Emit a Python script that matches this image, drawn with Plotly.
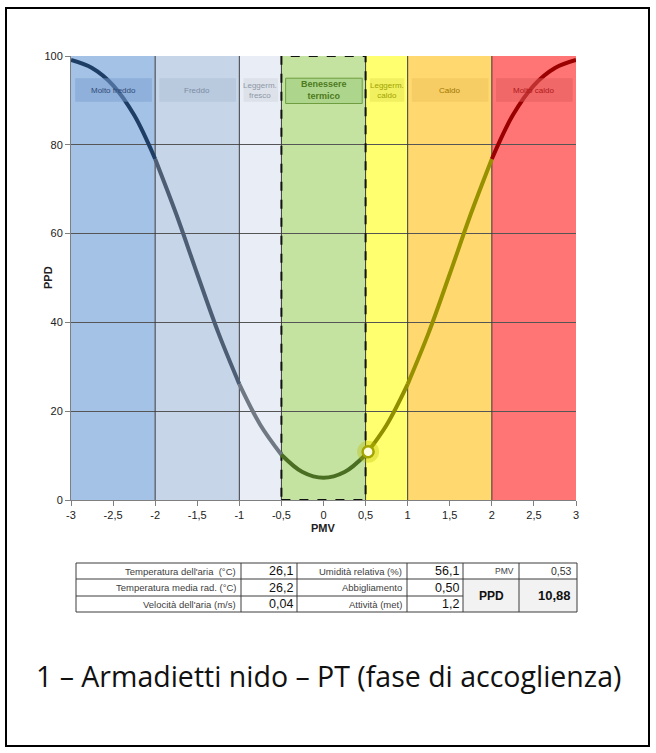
import plotly.graph_objects as go

# ---------------- data ----------------
pmv_values = [-3, -2.75, -2.5, -2.25, -2, -1.75, -1.5, -1.25, -1, -0.75, -0.5, -0.25,
              0, 0.25, 0.5, 0.75, 1, 1.25, 1.5, 1.75, 2, 2.25, 2.5, 2.75, 3]
ppd_values = [99.1, 97.3, 93.4, 86.7, 76.8, 64.4, 50.9, 37.7, 26.1, 16.9, 10.2, 6.3,
              5.0, 6.3, 10.2, 16.9, 26.1, 37.7, 50.9, 64.4, 76.8, 86.7, 93.4, 97.3, 99.1]

zone_edges = [-3, -2, -1, -0.5, 0.5, 1, 2, 3]
zone_labels = ["Molto freddo", "Freddo", "Leggerm.<br>fresco", "Benessere<br>termico",
               "Leggerm.<br>caldo", "Caldo", "Molto caldo"]

pmv_point = 0.53
ppd_point = 10.88

x_tick_values = [-3, -2.5, -2, -1.5, -1, -0.5, 0, 0.5, 1, 1.5, 2, 2.5, 3]
x_tick_labels = ["-3", "-2,5", "-2", "-1,5", "-1", "-0,5", "0", "0,5", "1", "1,5", "2", "2,5", "3"]
y_tick_values = [0, 20, 40, 60, 80, 100]

table_left_labels = ["Temperatura dell'aria  (°C)", "Temperatura media rad. (°C)", "Velocità dell'aria (m/s)"]
table_left_values = ["26,1", "26,2", "0,04"]
table_mid_labels = ["Umidità relativa (%)", "Abbigliamento", "Attività (met)"]
table_mid_values = ["56,1", "0,50", "1,2"]
pmv_label, pmv_text = "PMV", "0,53"
ppd_label, ppd_text = "PPD", "10,88"

caption = "1 – Armadietti nido – PT (fase di accoglienza)"

# ---------------- styles ----------------
zone_fill = ["#A4C2E6", "#C6D6E8", "#E9EEF6", "#C5E3A0", "#FFFF70", "#FFD970", "#FF7474"]
box_fill = ["rgba(122,158,206,0.5)", "rgba(172,190,214,0.5)", "rgba(207,212,222,0.5)",
            "rgba(149,201,120,0.5)", "rgba(225,225,80,0.5)", "rgba(237,191,88,0.5)",
            "rgba(225,92,92,0.5)"]
box_text = ["#2F4B78", "#7C8CA4", "#8F98A6", "#4E7A1E", "#A3A300", "#A07800", "#B01818"]
line_colors = ["#1F3E66", "#4D5D73", "#707884", "#4A6E22", "#8F8F00", "#979100", "#9A0000"]

W, H = 656, 753
PL, PR, PT, PB = 71, 576, 56, 500   # plot area in window pixels


def px(x):
    return (x - PL) / (PR - PL)


def py(y):
    return (PB - y) / (PB - PT)


fig = go.Figure()

for i in range(len(zone_edges) - 1):
    a, b = zone_edges[i], zone_edges[i + 1]
    xs = [x for x in pmv_values if a <= x <= b]
    ys = [ppd_values[pmv_values.index(x)] for x in xs]
    fig.add_trace(go.Scatter(x=xs, y=ys, mode="lines", line=dict(color=line_colors[i], width=4, shape="spline"),
                             hoverinfo="skip", showlegend=False))

fig.add_trace(go.Scatter(x=[pmv_point], y=[ppd_point], mode="markers",
                         marker=dict(size=22, color="rgba(190,190,0,0.35)", line=dict(width=0)),
                         hoverinfo="skip", showlegend=False))
fig.add_trace(go.Scatter(x=[pmv_point], y=[ppd_point], mode="markers",
                         marker=dict(size=11, color="#FFFFE0", line=dict(width=2.5, color="#A5A500")),
                         showlegend=False))

shapes = []
annotations = []
for i in range(len(zone_edges) - 1):
    a, b = zone_edges[i], zone_edges[i + 1]
    shapes.append(dict(type="rect", xref="x", yref="y", x0=a, x1=b, y0=0, y1=100,
                       fillcolor=zone_fill[i], line=dict(width=0), layer="below"))
    bold = i == 3
    shapes.append(dict(type="rect", xref="x", yref="y", x0=a + 0.05, x1=b - 0.04,
                       y0=89.3 if bold else 89.7, y1=95.0,
                       fillcolor=box_fill[i],
                       line=dict(width=1 if bold else 0, color="#6E9E40"), layer="above"))
    annotations.append(dict(x=(a + b) / 2, y=92.3, xref="x", yref="y",
                            text=("<b>%s</b>" % zone_labels[i]) if bold else zone_labels[i],
                            showarrow=False, font=dict(family="Liberation Sans", size=9 if bold else 8, color=box_text[i]),
                            align="center"))

for e in zone_edges[1:-1]:
    shapes.append(dict(type="line", xref="x", yref="y", x0=e, x1=e, y0=0, y1=100,
                       line=dict(color="#3A3A3A", width=1), layer="between"))

shapes.append(dict(type="rect", xref="x", yref="y", x0=-0.5, x1=0.5, y0=0, y1=100,
                   line=dict(color="#111111", width=2, dash="dash"), fillcolor="rgba(0,0,0,0)", layer="between"))

# table
cols = [76, 241, 297, 407, 463, 519, 577]
rows = [563, 579, 596, 612]
tc = "#3C3C3C"
shapes.append(dict(type="rect", xref="paper", yref="paper", x0=px(cols[4]), x1=px(cols[6]), y0=py(rows[1]), y1=py(rows[3]),
                   fillcolor="#F2F2F2", line=dict(width=0)))
shapes.append(dict(type="rect", xref="paper", yref="paper", x0=px(cols[0]), x1=px(cols[6]), y0=py(rows[0]), y1=py(rows[3]),
                   line=dict(color=tc, width=1)))
shapes.append(dict(type="line", xref="paper", yref="paper", x0=px(cols[0]), x1=px(cols[6]), y0=py(rows[1]), y1=py(rows[1]),
                   line=dict(color=tc, width=1)))
shapes.append(dict(type="line", xref="paper", yref="paper", x0=px(cols[0]), x1=px(cols[4]), y0=py(rows[2]), y1=py(rows[2]),
                   line=dict(color=tc, width=1)))
for c in cols[1:6]:
    shapes.append(dict(type="line", xref="paper", yref="paper", x0=px(c), x1=px(c), y0=py(rows[0]), y1=py(rows[3]),
                       line=dict(color=tc, width=1)))

lab_font = dict(family="Liberation Sans", size=9.5, color="#404040")
val_font = dict(family="Liberation Sans", size=12.5, color="#111")
for r in range(3):
    ym = py((rows[r] + rows[r + 1]) / 2)
    annotations.append(dict(x=px(cols[1] - 3), y=ym, xref="paper", yref="paper", xanchor="right", yanchor="middle",
                            text=table_left_labels[r], showarrow=False, font=lab_font))
    annotations.append(dict(x=px(cols[2] - 2), y=ym, xref="paper", yref="paper", xanchor="right", yanchor="middle",
                            text=table_left_values[r], showarrow=False, font=val_font))
    annotations.append(dict(x=px(cols[3] - 3), y=ym, xref="paper", yref="paper", xanchor="right", yanchor="middle",
                            text=table_mid_labels[r], showarrow=False, font=lab_font))
    annotations.append(dict(x=px(cols[4] - 2), y=ym, xref="paper", yref="paper", xanchor="right", yanchor="middle",
                            text=table_mid_values[r], showarrow=False, font=val_font))

ym0 = py((rows[0] + rows[1]) / 2)
annotations.append(dict(x=px(cols[5] - 3), y=ym0, xref="paper", yref="paper", xanchor="right", yanchor="middle",
                        text=pmv_label, showarrow=False, font=dict(family="Liberation Sans", size=8.5, color="#404040")))
annotations.append(dict(x=px(cols[6] - 3), y=ym0, xref="paper", yref="paper", xanchor="right", yanchor="middle",
                        text=pmv_text, showarrow=False, font=dict(family="Liberation Sans", size=10.5, color="#333")))
ym1 = py((rows[1] + rows[3]) / 2)
annotations.append(dict(x=px((cols[4] + cols[5]) / 2), y=ym1, xref="paper", yref="paper", xanchor="center", yanchor="middle",
                        text="<b>%s</b>" % ppd_label, showarrow=False, font=dict(family="Liberation Sans", size=12, color="#111")))
annotations.append(dict(x=px(cols[6] - 4), y=ym1, xref="paper", yref="paper", xanchor="right", yanchor="middle",
                        text="<b>%s</b>" % ppd_text, showarrow=False, font=dict(family="Liberation Sans", size=13, color="#111")))

# axis titles
annotations.append(dict(x=px(48), y=py(278), xref="paper", yref="paper", xanchor="center", yanchor="middle",
                        text="<b>PPD</b>", textangle=-90, showarrow=False,
                        font=dict(family="Liberation Sans", size=11, color="#222")))
annotations.append(dict(x=0.5, y=py(528), xref="paper", yref="paper", xanchor="center", yanchor="middle",
                        text="<b>PMV</b>", showarrow=False,
                        font=dict(family="Liberation Sans", size=11, color="#222")))

# caption
annotations.append(dict(x=px(34), y=py(676), xref="paper", yref="paper", xanchor="left", yanchor="middle",
                        text=caption, showarrow=False, font=dict(family="Open Sans", size=28.5, color="#111")))

# outer frame
shapes.append(dict(type="rect", xref="paper", yref="paper", x0=px(6), x1=px(649), y0=py(746), y1=py(8),
                   line=dict(color="#000", width=2)))

fig.update_layout(
    width=W, height=H,
    margin=dict(l=PL, r=W - PR, t=PT, b=H - PB, pad=0),
    paper_bgcolor="white", plot_bgcolor="white",
    shapes=shapes, annotations=annotations,
    showlegend=False,
    font=dict(family="Liberation Sans", color="#222"),
)
fig.update_xaxes(range=[-3, 3], tickvals=x_tick_values, ticktext=x_tick_labels, showgrid=False, zeroline=False,
                 showline=True, linecolor="#7F7F7F", linewidth=1, ticks="outside", ticklen=5, tickcolor="#7F7F7F",
                 tickfont=dict(size=11, color="#222"))
fig.update_yaxes(range=[0, 100], tickvals=y_tick_values, showgrid=True, gridcolor="#555555", gridwidth=1, zeroline=False,
                 showline=True, linecolor="#7F7F7F", linewidth=1, ticks="outside", ticklen=5, tickcolor="#7F7F7F",
                 tickfont=dict(size=11, color="#222"))

fig.write_html("out.html", config={"displayModeBar": False},
               post_script="document.body.style.margin='0';document.body.style.overflow='hidden';")
